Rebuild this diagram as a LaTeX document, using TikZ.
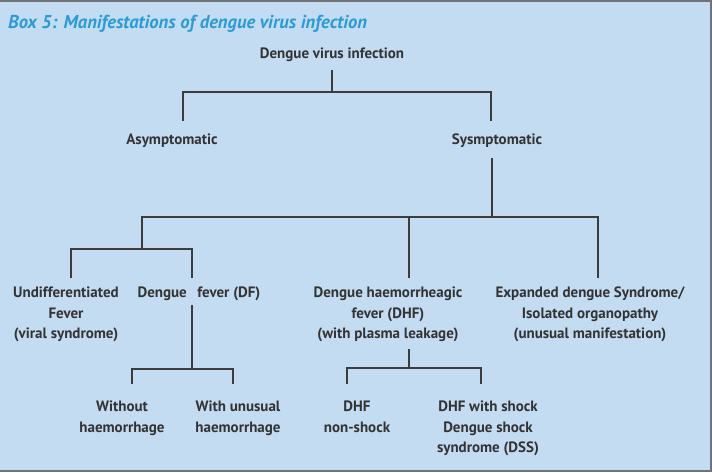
\documentclass[tikz,border=0pt]{standalone}
\usepackage{fontspec}
\setmainfont{PT Sans}
\usepackage{tikz}
\usetikzlibrary{arrows.meta,positioning,calc}
\definecolor{cBack}{HTML}{C3DCF1}
\definecolor{cFrame}{HTML}{6F7378}
\definecolor{cTitle}{HTML}{2A9BD6}
\definecolor{cText}{HTML}{333333}
\definecolor{cLine}{HTML}{3C3C3C}
\tikzset{
  lbl/.style={font=\fontsize{15}{20.5}\selectfont\bfseries, text=cText,
              align=center, inner sep=2pt},
  ttl/.style={font=\fontsize{18.6}{20}\selectfont\bfseries\itshape, text=cTitle,
              inner sep=0pt},
  link/.style={draw=cLine, line width=1.3pt}
}
\begin{document}
\begin{tikzpicture}[x=1pt, y=-1pt]
\useasboundingbox (0,0) rectangle (712,472);
% ----- frame -----
\fill[cBack] (0,1.5) rectangle (709.5,469.5);
\fill[cFrame] (0,0) rectangle (712,1.5);
\fill[cFrame] (709.5,0) rectangle (712,472);
\fill[cFrame] (0,469.5) rectangle (712,472);
\node[ttl, anchor=base west] (title) at (8,28) {Box 5: Manifestations of dengue virus infection};
% ----- level 1 -----
\node[lbl] (root) at (332,55) {Dengue virus infection};
\node[lbl] (asym) at (172,141) {Asymptomatic};
\node[lbl] (symp) at (497,141) {Sysmptomatic};
\coordinate (f1) at (332,92);
\draw[link, shorten <=6pt] (root.south) -- (f1);
\draw[link, shorten >=11pt] (f1) -| ([xshift=11pt]asym.north);
\draw[link, shorten >=11pt] (f1) -| ([xshift=-6pt]symp.north);
% ----- level 2 -----
\node[lbl, anchor=north] (undiff) at (66,285) {Undifferentiated\\Fever\\(viral syndrome)};
\node[lbl, anchor=north] (df) at (199,285) {Dengue\hspace{0.45em} fever (DF)};
\node[lbl, anchor=north] (dhf) at (388,285) {Dengue haemorrheagic\\fever (DHF)\\(with plasma leakage)};
\node[lbl, anchor=north] (exp) at (590,285) {Expanded dengue Syndrome/\\Isolated organopathy\\(unusual manifestation)};
\coordinate (f2) at (492,217);
\coordinate (f3) at (142,249);
\draw[link, shorten <=8pt] ([xshift=-5pt]symp.south) -- (f2);
\draw[link] (f2) -| (f3);
\draw[link, shorten >=7pt] (f2) -| ([xshift=21pt]dhf.north);
\draw[link, shorten >=7pt] (f2) -| ([xshift=8pt]exp.north);
\draw[link, shorten >=7pt] (f3) -| ([xshift=5pt]undiff.north);
\draw[link, shorten >=7pt] (f3) -| ([xshift=-7pt]df.north);
% ----- level 3 -----
\node[lbl, anchor=north] (without) at (122,399) {Without\\haemorrhage};
\node[lbl, anchor=north] (unusual) at (238,399) {With unusual\\haemorrhage};
\node[lbl, anchor=north] (nonshock) at (357,399) {DHF\\non-shock};
\node[lbl, anchor=north] (shock) at (488,399) {DHF with shock\\Dengue shock\\syndrome (DSS)};
\coordinate (f4) at (192,369);
\coordinate (f5) at (409,368);
\draw[link, shorten <=2pt] ([xshift=-7pt]df.south) -- (f4);
\draw[link, shorten >=15pt] (f4) -| ([xshift=10pt]without.north);
\draw[link, shorten >=15pt] (f4) -| ([xshift=-5pt]unusual.north);
\draw[link, shorten <=5pt] ([xshift=21pt]dhf.south) -- (f5);
\draw[link, shorten >=15pt] (f5) -| ([xshift=-10pt]nonshock.north);
\draw[link, shorten >=15pt] (f5) -| ([xshift=-7pt]shock.north);
\end{tikzpicture}
\end{document}
